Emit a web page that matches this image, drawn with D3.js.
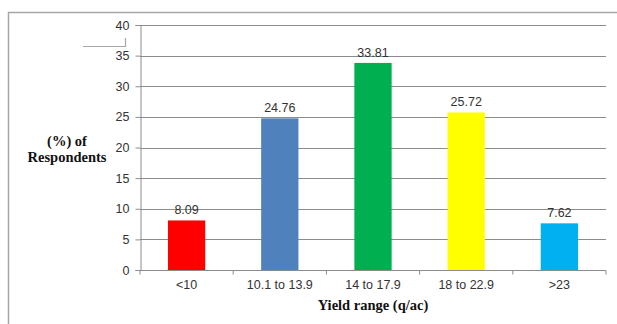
<!DOCTYPE html>
<html>
<head>
<meta charset="utf-8">
<script src="https://cdn.jsdelivr.net/npm/d3@7"></script>
<style>
  html, body { margin: 0; padding: 0; background: #fff; }
  svg { display: block; }
</style>
</head>
<body>
<svg id="chart" width="617" height="324"></svg>
<script>
// Yield distribution of respondents
const categories = ["<10", "10.1 to 13.9", "14 to 17.9", "18 to 22.9", ">23"];
const percentages = [8.09, 24.76, 33.81, 25.72, 7.62];
const barColors = ["#ff0000", "#4f81bd", "#00b050", "#ffff00", "#00b0f0"];
const yTicks = [0, 5, 10, 15, 20, 25, 30, 35, 40];

const svg = d3.select("#chart");
const margin = { left: 140, right: 11, top: 25, bottom: 54 };
const W = 617, H = 324;

// Outer frame (left and top edges)
svg.append("path")
  .attr("d", "M8.5,324 V12.5 H617")
  .attr("fill", "none")
  .attr("stroke", "#a6a6a6")
  .attr("stroke-width", 1.5);

// Small bracket mark near the top-left
svg.append("path")
  .attr("d", "M83,46.5 H125.5 V38")
  .attr("fill", "none")
  .attr("stroke", "#a6a6a6")
  .attr("stroke-width", 1.2);

const x = d3.scaleBand()
  .domain(categories)
  .range([margin.left, W - margin.right])
  .paddingInner(0.6)
  .paddingOuter(0.3);

const y = d3.scaleLinear()
  .domain([0, 40])
  .range([H - margin.bottom, margin.top]);

// Gridlines
svg.append("g")
  .selectAll("line")
  .data(yTicks.filter(d => d > 0))
  .join("line")
  .attr("x1", margin.left)
  .attr("x2", W - margin.right)
  .attr("y1", d => Math.round(y(d)) + 0.5)
  .attr("y2", d => Math.round(y(d)) + 0.5)
  .attr("stroke", "#8c8c8c")
  .attr("stroke-width", 1);

// Y axis
const yAxis = svg.append("g")
  .attr("transform", `translate(${margin.left + 0.5},0)`)
  .call(d3.axisLeft(y).tickValues(yTicks).tickSize(5).tickPadding(6));
yAxis.select(".domain").attr("stroke", "#8c8c8c");
yAxis.selectAll(".tick line").attr("stroke", "#8c8c8c");
yAxis.selectAll(".tick text")
  .attr("font-family", "'Liberation Sans', Arial, sans-serif")
  .attr("font-size", 12.5)
  .attr("fill", "#333");

// Bars
svg.append("g")
  .selectAll("rect")
  .data(percentages)
  .join("rect")
  .attr("x", (d, i) => x(categories[i]))
  .attr("width", x.bandwidth())
  .attr("y", d => y(d))
  .attr("height", d => y(0) - y(d))
  .attr("fill", (d, i) => barColors[i]);

// Value labels
svg.append("g")
  .selectAll("text")
  .data(percentages)
  .join("text")
  .attr("x", (d, i) => x(categories[i]) + x.bandwidth() / 2)
  .attr("y", d => y(d) - 6)
  .attr("text-anchor", "middle")
  .attr("font-family", "'Liberation Sans', Arial, sans-serif")
  .attr("font-size", 12.5)
  .attr("fill", "#333")
  .text(d => d.toFixed(2));

// X axis with ticks between categories
const xAxisG = svg.append("g")
  .attr("transform", `translate(0,${Math.round(y(0)) + 0.5})`);
xAxisG.append("line")
  .attr("x1", margin.left)
  .attr("x2", W - margin.right)
  .attr("stroke", "#8c8c8c");
const boundaries = d3.range(categories.length + 1).map(i => margin.left + i * (W - margin.left - margin.right) / categories.length);
xAxisG.selectAll("line.tick")
  .data(boundaries)
  .join("line")
  .attr("class", "tick")
  .attr("x1", d => d)
  .attr("x2", d => d)
  .attr("y1", 0)
  .attr("y2", 4)
  .attr("stroke", "#8c8c8c");
xAxisG.selectAll("text")
  .data(categories)
  .join("text")
  .attr("x", d => x(d) + x.bandwidth() / 2)
  .attr("y", 18)
  .attr("text-anchor", "middle")
  .attr("font-family", "'Liberation Sans', Arial, sans-serif")
  .attr("font-size", 12.5)
  .attr("fill", "#333")
  .text(d => d);

// Axis titles
svg.append("text")
  .attr("x", (margin.left + W - margin.right) / 2)
  .attr("y", 310)
  .attr("text-anchor", "middle")
  .attr("font-family", "'Liberation Serif', 'Times New Roman', serif")
  .attr("font-weight", "bold")
  .attr("font-size", 14.5)
  .attr("fill", "#111")
  .text("Yield range (q/ac)");

const yTitle = svg.append("text")
  .attr("text-anchor", "middle")
  .attr("font-family", "'Liberation Serif', 'Times New Roman', serif")
  .attr("font-weight", "bold")
  .attr("font-size", 14.5)
  .attr("fill", "#111");
yTitle.append("tspan").attr("x", 67).attr("y", 146).text("(%) of");
yTitle.append("tspan").attr("x", 67).attr("y", 162).text("Respondents");
</script>
</body>
</html>
